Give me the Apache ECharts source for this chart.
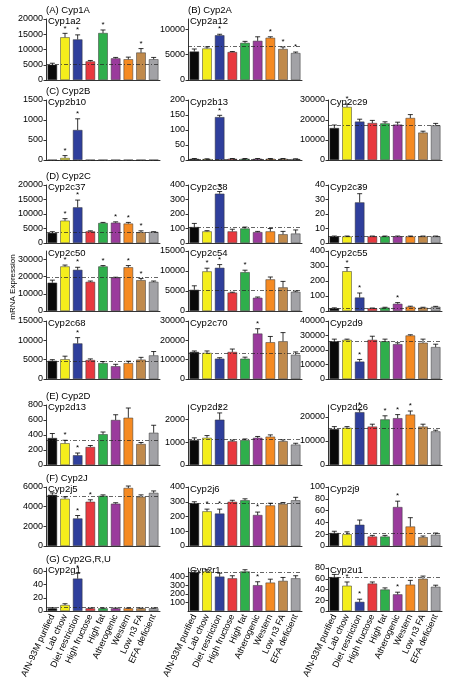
<!DOCTYPE html>
<html><head><meta charset="utf-8">
<script src="https://cdn.jsdelivr.net/npm/echarts@6/dist/echarts.min.js"></script>
<style>html,body{margin:0;padding:0;background:#fff}#c{width:452px;height:694px}</style>
</head><body><div id="c"></div>
<script>
// ---------- DATA ----------
const categories = ['AIN-93M purified','Lab chow','Diet restriction','High fructose','High fat','Atherogenic','Western','Low n3 FA','EFA deficient'];

const cyp1a2 = [5000,14000,13300,6100,15400,7100,6800,9000,6800];
const cyp1a2Err = [500,1300,1500,300,1000,300,700,1300,600];
const cyp1a2Sig = [1,2,4,7];

const cyp2a12 = [5600,6200,8800,5500,7300,7700,8300,6100,5300];
const cyp2a12Err = [500,300,200,100,300,800,200,400,200];
const cyp2a12Sig = [2,6,7,8];

const cyp2b10 = [3,50,750,3,3,3,3,3,3];
const cyp2b10Err = [0,60,280,0,0,0,0,0,0];
const cyp2b10Sig = [1,2];

const cyp2b13 = [4,3,143,4,4,4,4,4,3];
const cyp2b13Err = [1,1,6,1,1,1,1,1,1];
const cyp2b13Sig = [2];

const cyp2c29 = [16000,26500,19200,18500,18300,17700,21000,13700,17300];
const cyp2c29Err = [1500,1500,1200,1300,800,1200,1700,700,1000];
const cyp2c29Sig = [1];

const cyp2c37 = [3500,7700,12300,4000,6900,7000,6700,3700,3800];
const cyp2c37Err = [400,700,2500,200,200,300,400,500,100];
const cyp2c37Sig = [1,2,5,6,7];

const cyp2c38 = [110,80,340,80,100,75,80,60,65];
const cyp2c38Err = [25,5,15,15,10,5,20,20,25];
const cyp2c38Sig = [2];

const cyp2c39 = [4.5,4.5,28,4.5,4.5,4.5,4.5,4.5,4.5];
const cyp2c39Err = [0.3,0.3,6,0.3,0.3,0.3,0.3,0.3,0.3];
const cyp2c39Sig = [2];

const cyp2c50 = [16500,26000,24000,17000,26000,19500,25500,18000,17000];
const cyp2c50Err = [1500,800,1500,500,500,200,1000,1000,500];
const cyp2c50Sig = [1,2,4,6,7];

const cyp2c54 = [5300,9900,10800,4600,9700,3300,7900,5900,4800];
const cyp2c54Err = [1000,800,800,100,500,200,600,1500,200];
const cyp2c54Sig = [1,2,4];

const cyp2c55 = [18,265,90,18,22,48,28,22,28];
const cyp2c55Err = [3,25,30,2,3,8,4,3,3];
const cyp2c55Sig = [1,2,5];

const cyp2c68 = [4700,5100,9200,4900,4100,3300,4100,5000,6100];
const cyp2c68Err = [300,800,1500,300,400,500,500,600,1000];
const cyp2c68Sig = [2];

const cyp2c70 = [14000,13500,10500,14000,10500,23500,19000,19500,12500];
const cyp2c70Err = [500,1000,500,1500,800,2500,3000,4500,1500];
const cyp2c70Sig = [5];

const cyp2d9 = [26000,27000,12000,27000,26000,24000,30000,25000,22000];
const cyp2d9Err = [1500,500,1500,2500,1500,1000,500,2500,2000];
const cyp2d9Sig = [2];

const cyp2d13 = [360,290,130,240,410,600,630,280,430];
const cyp2d13Err = [60,40,30,20,30,70,130,20,100];
const cyp2d13Sig = [1,2];

const cyp2d22 = [1100,1200,2000,1050,1100,1200,1250,1050,900];
const cyp2d22Err = [100,100,300,50,50,60,80,60,60];
const cyp2d22Sig = [2];

const cyp2d26 = [15000,15500,22000,16000,19000,19500,21000,16000,14000];
const cyp2d26Err = [1000,500,1000,1000,1500,1500,1500,1000,500];
const cyp2d26Sig = [2,4,5,6];

const cyp2j5 = [5200,4800,2800,4500,5100,4300,5900,5000,5400];
const cyp2j5Err = [200,200,300,200,100,100,200,200,200];
const cyp2j5Sig = [2,3];

const cyp2j6 = [290,235,220,300,310,210,275,285,310];
const cyp2j6Err = [10,15,30,10,10,20,15,10,20];
const cyp2j6Sig = [1,2,5];

const cyp2j9 = [22,20,36,16,16,66,33,15,19];
const cyp2j9Err = [3,4,8,2,2,10,15,2,3];
const cyp2j9Sig = [5];

const cyp2g1 = [4,9,49,4,4,4,4,4,4];
const cyp2g1Err = [1,2,8,0.5,0.5,0.5,0.5,0.5,0.5];
const cyp2g1Sig = [2];

const cyp2r1 = [450,460,400,380,460,300,330,350,380];
const cyp2r1Err = [20,20,40,30,20,40,40,40,30];
const cyp2r1Sig = [5];

const cyp2u1 = [63,47,17,51,40,31,49,60,45];
const cyp2u1Err = [5,7,5,3,3,4,8,5,3];
const cyp2u1Sig = [1,2,5];

// reference (dashed) line levels
const refLevels = [5200,6700,5,3,17300,3700,112,4.8,19700,5300,20,4700,13500,26000,330,1150,15500,5100,290,22,5,450,62];

// y-axis tick labels
const ticks1a2 = [0,5000,10000,15000,20000];
const ticks2a12 = [0,5000,10000];
const ticks2b10 = [0,500,1000,1500];
const ticks2b13 = [0,50,100,150,200];
const ticks30k = [0,10000,20000,30000];
const ticks20k = [0,5000,10000,15000,20000];
const ticks400 = [0,100,200,300,400];
const ticks40 = [0,10,20,30,40];
const ticks15k = [0,5000,10000,15000];
const ticks40k = [0,10000,20000,30000,40000];
const ticks800 = [0,200,400,600,800];
const ticks2d22 = [0,1000,2000];
const ticks2d26 = [0,10000,20000];
const ticks6000 = [0,2000,4000,6000];
const ticks100 = [0,20,40,60,80,100];
const ticks60 = [0,20,40,60];
const ticks500 = [0,100,200,300,400,500];
const ticks80 = [0,20,40,60,80];

// ---------- STYLE / LAYOUT ----------
const barColors = ['#0a0a0a','#f4ee1c','#2f3f9c','#e8393f','#2fae4c','#9a3b9c','#f58a22','#c08a4c','#a2a2a6'];
const rowTop = [19,100,185,251,321,405,487,568];
const rowBottom = [80,160,243,311,379,465,546,611];
const colLeft = [46,188,328];
const plotW = 114;

const panels = [
 {g:'Cyp1a2', sec:'(A) Cyp1A', r:0,c:0, v:cyp1a2, e:cyp1a2Err, s:cyp1a2Sig, max:20000, t:ticks1a2},
 {g:'Cyp2a12', sec:'(B) Cyp2A', r:0,c:1, v:cyp2a12, e:cyp2a12Err, s:cyp2a12Sig, max:12000, t:ticks2a12},
 {g:'Cyp2b10', sec:'(C) Cyp2B', r:1,c:0, v:cyp2b10, e:cyp2b10Err, s:cyp2b10Sig, max:1500, t:ticks2b10},
 {g:'Cyp2b13', r:1,c:1, v:cyp2b13, e:cyp2b13Err, s:cyp2b13Sig, max:200, t:ticks2b13},
 {g:'Cyp2c29', r:1,c:2, v:cyp2c29, e:cyp2c29Err, s:cyp2c29Sig, max:30000, t:ticks30k},
 {g:'Cyp2c37', sec:'(D) Cyp2C', r:2,c:0, v:cyp2c37, e:cyp2c37Err, s:cyp2c37Sig, max:20000, t:ticks20k},
 {g:'Cyp2c38', r:2,c:1, v:cyp2c38, e:cyp2c38Err, s:cyp2c38Sig, max:400, t:ticks400},
 {g:'Cyp2c39', r:2,c:2, v:cyp2c39, e:cyp2c39Err, s:cyp2c39Sig, max:40, t:ticks40},
 {g:'Cyp2c50', r:3,c:0, v:cyp2c50, e:cyp2c50Err, s:cyp2c50Sig, max:35000, t:ticks30k},
 {g:'Cyp2c54', r:3,c:1, v:cyp2c54, e:cyp2c54Err, s:cyp2c54Sig, max:15000, t:ticks15k},
 {g:'Cyp2c55', r:3,c:2, v:cyp2c55, e:cyp2c55Err, s:cyp2c55Sig, max:400, t:ticks400},
 {g:'Cyp2c68', r:4,c:0, v:cyp2c68, e:cyp2c68Err, s:cyp2c68Sig, max:15000, t:ticks15k},
 {g:'Cyp2c70', r:4,c:1, v:cyp2c70, e:cyp2c70Err, s:cyp2c70Sig, max:30000, t:ticks30k},
 {g:'Cyp2d9', r:4,c:2, v:cyp2d9, e:cyp2d9Err, s:cyp2d9Sig, max:40000, t:ticks40k},
 {g:'Cyp2d13', sec:'(E) Cyp2D', r:5,c:0, v:cyp2d13, e:cyp2d13Err, s:cyp2d13Sig, max:800, t:ticks800},
 {g:'Cyp2d22', r:5,c:1, v:cyp2d22, e:cyp2d22Err, s:cyp2d22Sig, max:2650, t:ticks2d22},
 {g:'Cyp2d26', r:5,c:2, v:cyp2d26, e:cyp2d26Err, s:cyp2d26Sig, max:25000, t:ticks2d26},
 {g:'Cyp2j5', sec:'(F) Cyp2J', r:6,c:0, v:cyp2j5, e:cyp2j5Err, s:cyp2j5Sig, max:6000, t:ticks6000},
 {g:'Cyp2j6', r:6,c:1, v:cyp2j6, e:cyp2j6Err, s:cyp2j6Sig, max:400, t:ticks400},
 {g:'Cyp2j9', r:6,c:2, v:cyp2j9, e:cyp2j9Err, s:cyp2j9Sig, max:100, t:ticks100},
 {g:'Cyp2g1', sec:'(G) Cyp2G,R,U', r:7,c:0, v:cyp2g1, e:cyp2g1Err, s:cyp2g1Sig, max:65, t:ticks60},
 {g:'Cyp2r1', r:7,c:1, v:cyp2r1, e:cyp2r1Err, s:cyp2r1Sig, max:500, t:ticks500},
 {g:'Cyp2u1', r:7,c:2, v:cyp2u1, e:cyp2u1Err, s:cyp2u1Sig, max:80, t:ticks80}
];

const FONT = 'Liberation Sans, Arial, sans-serif';
const grids=[], xAxes=[], yAxes=[], series=[], graphics=[];

function renderErr(params, api){
  const i=api.value(0), v=api.value(1), e=api.value(2), s=api.value(3);
  const p0=api.coord([i,v]), p1=api.coord([i,v+e]);
  const ch=[];
  if(e>0){
    ch.push({type:'line',shape:{x1:p0[0],y1:p0[1],x2:p1[0],y2:p1[1]},style:{stroke:'#000',lineWidth:0.8}});
    ch.push({type:'line',shape:{x1:p1[0]-2.5,y1:p1[1],x2:p1[0]+2.5,y2:p1[1]},style:{stroke:'#000',lineWidth:0.8}});
  }
  if(s){
    ch.push({type:'text',x:p1[0],y:p1[1]-1,style:{text:'*',align:'center',verticalAlign:'bottom',fontSize:8,fontFamily:FONT,fill:'#000'}});
  }
  return {type:'group',children:ch};
}

panels.forEach((p,k)=>{
  const left=colLeft[p.c], top=rowTop[p.r], h=rowBottom[p.r]-rowTop[p.r];
  grids.push({left:left, top:top, width:plotW, height:h});
  const last = p.r===7;
  xAxes.push({type:'category', gridIndex:k, data:categories,
    axisLine:{lineStyle:{color:'#000',width:0.8}},
    axisTick:{alignWithLabel:true,length:2.5,lineStyle:{color:'#000',width:0.8}},
    axisLabel:{show:last, rotate:65, fontSize:9, fontFamily:FONT, color:'#000', margin:4, interval:0}});
  yAxes.push({type:'value', gridIndex:k, min:0, max:p.max,
    axisLine:{show:true,lineStyle:{color:'#000',width:0.8}},
    axisTick:{show:true,length:2.5,customValues:p.t,lineStyle:{color:'#000',width:0.8}},
    axisLabel:{customValues:p.t, formatter:(v)=>String(v), fontSize:9, fontFamily:FONT, color:'#000', margin:3},
    splitLine:{show:false}});
  series.push({type:'bar', xAxisIndex:k, yAxisIndex:k, barCategoryGap:'25%',
    data:p.v.map((val,i)=>({value:val,itemStyle:{color:barColors[i]}})),
    itemStyle:{borderColor:'#333',borderWidth:0.5},
    markLine:{silent:true,symbol:['none','none'],label:{show:false},
      lineStyle:{type:[4,2,1,2],color:'#222',width:0.7},data:[{yAxis:refLevels[k]}]},
    animation:false});
  series.push({type:'custom', xAxisIndex:k, yAxisIndex:k, renderItem:renderErr, clip:false,
    encode:{x:0,y:1}, z:5,
    data:p.v.map((val,i)=>[i,val,p.e[i],p.s.indexOf(i)>=0?1:0]), animation:false});
  graphics.push({type:'text', left:left+2, top:top-3, style:{text:p.g,fontSize:9.5,fontFamily:FONT,fill:'#000'}});
  if(p.sec){
    graphics.push({type:'text', left:left, top:top-14, style:{text:p.sec,fontSize:9.5,fontFamily:FONT,fill:'#000'}});
  }
});
graphics.push({type:'text', x:13, y:287, rotation:Math.PI/2, style:{text:'mRNA Expression',align:'center',verticalAlign:'middle',fontSize:8,fontFamily:FONT,fill:'#000'}});

const chart = echarts.init(document.getElementById('c'), null, {renderer:'canvas'});
chart.setOption({animation:false, grid:grids, xAxis:xAxes, yAxis:yAxes, series:series, graphic:graphics});
</script>
</body></html>
